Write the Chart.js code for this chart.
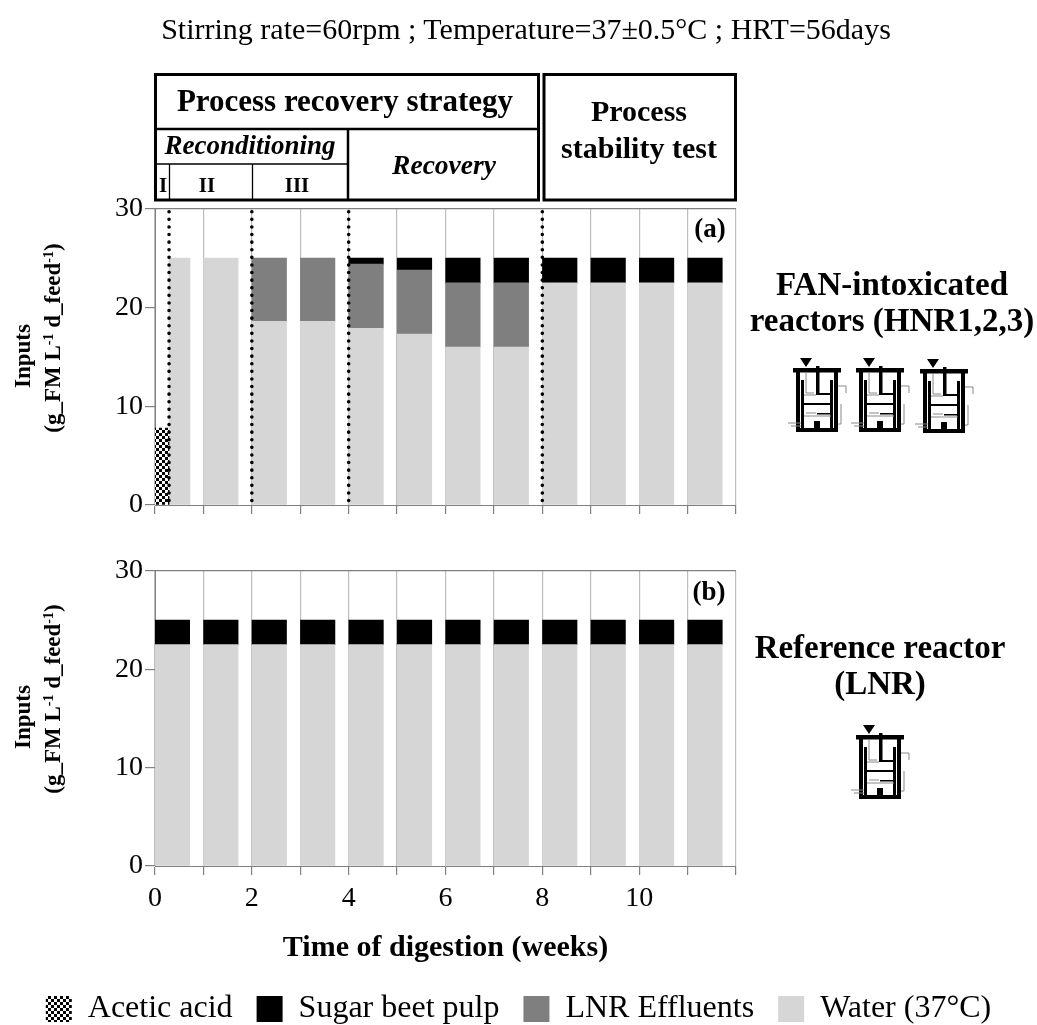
<!DOCTYPE html>
<html>
<head>
<meta charset="utf-8">
<script src="https://cdn.jsdelivr.net/npm/chart.js@4"></script>
<style>
html, body { margin: 0; padding: 0; background: #fff; }
#page { position: relative; width: 1037px; height: 1025px; overflow: hidden; font-family: "Liberation Serif", serif; }
canvas { position: absolute; left: 0; }
#graphA { top: 190px; }
#graphB { top: 552px; }
#notes { position: absolute; left: 0; top: 0; }
#notes text { fill: #000; text-anchor: middle; }
.b { font-weight: bold; }
.bi { font-weight: bold; font-style: italic; }
</style>
</head>
<body>
<div id="page">
<canvas id="graphA" width="1037" height="340"></canvas>
<canvas id="graphB" width="1037" height="483"></canvas>
<svg id="notes" width="1037" height="1025">
  <defs>
    <g id="reactor">
      <path d="M12 0H24L18 9Z" fill="#000"/>
      <rect x="5" y="10" width="48" height="4.5" fill="#000"/>
      <rect x="8" y="14" width="4" height="57" fill="#000"/>
      <rect x="46" y="14" width="4" height="57" fill="#000"/>
      <rect x="13" y="22" width="3" height="49" fill="#000"/>
      <rect x="42" y="22" width="3" height="49" fill="#000"/>
      <rect x="28" y="8" width="3.5" height="28" fill="#000"/>
      <rect x="28" y="35" width="16" height="2" fill="#000"/>
      <rect x="16" y="45" width="27" height="2" fill="#000"/>
      <rect x="29" y="55" width="15" height="1.5" fill="#000"/>
      <rect x="26" y="63" width="6" height="8" fill="#000"/>
      <rect x="8" y="70" width="42" height="4" fill="#000"/>
      <path d="M18 14V35H26M16 37H28M18 55H28M16 58H43M50 28H58V35M50 66H53V46M0 65H13M3 68H13" fill="none" stroke="#888" stroke-width="1"/>
    </g>
  </defs>

  <text x="526" y="39" font-size="30">Stirring rate=60rpm ; Temperature=37±0.5°C ; HRT=56days</text>

  <g fill="none" stroke="#000">
    <rect x="155.5" y="74.5" width="383" height="125.5" stroke-width="3"/>
    <rect x="544" y="74.5" width="191.5" height="125.5" stroke-width="3"/>
    <path d="M155 129H538M348 129V200" stroke-width="2.5"/>
    <path d="M155 164H348M169.5 164V200M252.5 164V200" stroke-width="1.3"/>
  </g>

  <text class="b" x="345" y="111" font-size="31">Process recovery strategy</text>
  <text class="bi" x="250" y="154" font-size="27">Reconditioning</text>
  <text class="bi" x="444" y="174" font-size="27.5">Recovery</text>
  <text class="b" x="163" y="192" font-size="21">I</text>
  <text class="b" x="207" y="192" font-size="21">II</text>
  <text class="b" x="297" y="192" font-size="21">III</text>
  <text class="b" x="639" y="121" font-size="30">Process</text>
  <text class="b" x="639" y="158" font-size="30">stability test</text>

  <text class="b" x="710" y="237" font-size="27">(a)</text>
  <text class="b" x="709" y="600" font-size="27">(b)</text>

  <g class="b" font-size="23">
    <text transform="translate(30,356) rotate(-90)">Inputs</text>
    <text transform="translate(60,338) rotate(-90)">(g_FM L<tspan font-size="14" dy="-7">-1</tspan><tspan dy="7"> d_feed</tspan><tspan font-size="14" dy="-7">-1</tspan><tspan dy="7">)</tspan></text>
    <text transform="translate(30,717) rotate(-90)">Inputs</text>
    <text transform="translate(60,699) rotate(-90)">(g_FM L<tspan font-size="14" dy="-7">-1</tspan><tspan dy="7"> d_feed</tspan><tspan font-size="14" dy="-7">-1</tspan><tspan dy="7">)</tspan></text>
  </g>

  <text class="b" x="892" y="295" font-size="33">FAN-intoxicated</text>
  <text class="b" x="892" y="331" font-size="33">reactors (HNR1,2,3)</text>
  <text class="b" x="880" y="658" font-size="33">Reference reactor</text>
  <text class="b" x="880" y="694" font-size="33">(LNR)</text>

  <use href="#reactor" x="788" y="358"/>
  <use href="#reactor" x="851" y="358"/>
  <use href="#reactor" x="915" y="359"/>
  <use href="#reactor" x="851" y="725"/>
</svg>
</div>

<script>
// semaines
const weeks = [0, 1, 2, 3, 4, 5, 6, 7, 8, 9, 10, 11];
const weekLabels = ['0', '', '2', '', '4', '', '6', '', '8', '', '10', '', ''];
const phaseLimits = [0.29, 2, 4, 8];

// panel (a) HNR
const aceticA = [7.8];
const waterFirstA = [25];
const waterA = [null, 25, 18.6, 18.6, 17.9, 17.3, 16, 16, 22.5, 22.5, 22.5, 22.5];
const effluentA = [null, null, 6.4, 6.4, 6.5, 6.5, 6.5, 6.5, null, null, null, null];
const sugarA = [null, null, null, null, 0.6, 1.2, 2.5, 2.5, 2.5, 2.5, 2.5, 2.5];

// panel (b) LNR
const waterB = [22.5, 22.5, 22.5, 22.5, 22.5, 22.5, 22.5, 22.5, 22.5, 22.5, 22.5, 22.5];
const sugarB = [2.5, 2.5, 2.5, 2.5, 2.5, 2.5, 2.5, 2.5, 2.5, 2.5, 2.5, 2.5];

const legendOrder = ['Acetic acid', 'Sugar beet pulp', 'LNR Effluents', 'Water (37°C)'];

const colWater = '#d6d6d6';
const colEffluent = '#7f7f7f';
const colSugar = '#000000';
const colAxis = '#808080';
const colGrid = '#bdbdbd';
const fontName = '"Liberation Serif", serif';

Chart.defaults.font.family = fontName;
Chart.defaults.color = '#000';
Chart.defaults.animation = false;

function checker() {
    var c = document.createElement('canvas');
    c.width = 6;
    c.height = 6;
    var g = c.getContext('2d');
    g.fillStyle = '#fff';
    g.fillRect(0, 0, 6, 6);
    g.fillStyle = '#000';
    g.fillRect(0, 0, 3, 3);
    g.fillRect(3, 3, 3, 3);
    return g.createPattern(c, 'repeat');
}

// les barres commencent au debut de la semaine, pas au centre
function points(values, shift) {
    return values.map((v, i) => ({ x: weeks[i] + shift, y: v }));
}

function bar(label, data, color, width) {
    return { label: label, data: data, backgroundColor: color, barThickness: width, stack: 'inputs', borderWidth: 0 };
}

const dottedLines = {
    id: 'dottedLines',
    afterDatasetsDraw(chart, args, opts) {
        if (!opts.at) return;
        var ctx = chart.ctx;
        ctx.save();
        ctx.strokeStyle = '#000';
        ctx.lineWidth = 3.6;
        ctx.lineCap = 'round';
        ctx.setLineDash([0, 7.6]);
        opts.at.forEach(function (v) {
            var px = chart.scales.x.getPixelForValue(v);
            ctx.beginPath();
            ctx.moveTo(px, chart.scales.y.getPixelForValue(29.7));
            ctx.lineTo(px, chart.scales.y.getPixelForValue(0));
            ctx.stroke();
        });
        ctx.restore();
    }
};

function scales(xHeight, bottomAxis) {
    return {
        x: {
            type: 'linear', min: 0, max: 12, offset: false,
            afterFit: s => { s.height = xHeight; },
            border: { color: colAxis },
            grid: { offset: false, color: colGrid, tickColor: colAxis, tickLength: 9, lineWidth: 1.2 },
            ticks: {
                stepSize: 1, autoSkip: false, maxRotation: 0, padding: 7,
                font: { size: 28 },
                callback: (v) => bottomAxis ? weekLabels[v] : ''
            },
            title: {
                display: bottomAxis, text: 'Time of digestion (weeks)',
                font: { size: 30, weight: 'bold' }, padding: { top: 6, bottom: 3 }
            }
        },
        y: {
            stacked: true, min: 0, max: 30,
            afterFit: s => { s.width = 155; },
            border: { color: colAxis },
            grid: {
                color: c => c.tick && c.tick.value === 30 ? colAxis : 'transparent',
                tickColor: colAxis, tickLength: 10, lineWidth: 1.2
            },
            ticks: { stepSize: 10, padding: 2, font: { size: 28 } }
        },
        // marge droite pour les textes, la legende garde toute la largeur
        side: {
            position: 'right',
            afterFit: s => { s.width = 301; },
            border: { display: false },
            grid: { display: false },
            ticks: { display: false }
        }
    };
}

function createGraph(id, datasets, xHeight, bottomAxis, legend, limits) {
    return new Chart(document.getElementById(id), {
        type: 'bar',
        data: { datasets: datasets },
        plugins: [dottedLines],
        options: {
            responsive: false,
            maintainAspectRatio: false,
            layout: { padding: { top: 14, right: 0, left: 0, bottom: 0 } },
            scales: scales(xHeight, bottomAxis),
            plugins: {
                legend: legend,
                tooltip: { enabled: false },
                dottedLines: { at: limits }
            }
        }
    });
}

const acetic = checker();

createGraph('graphA', [
    bar('Acetic acid', points(aceticA, 0.145), acetic, 14),
    bar('Water (37°C)', points(waterFirstA, 0.506), colWater, 21),
    bar('Water (37°C)', points(waterA, 0.36), colWater, 34.5),
    bar('LNR Effluents', points(effluentA, 0.36), colEffluent, 34.5),
    bar('Sugar beet pulp', points(sugarA, 0.36), colSugar, 34.5)
], 25, false, { display: false }, phaseLimits);

createGraph('graphB', [
    bar('Acetic acid', [], acetic, 14),
    bar('Water (37°C)', points(waterB, 0.36), colWater, 34.5),
    bar('LNR Effluents', [], colEffluent, 34.5),
    bar('Sugar beet pulp', points(sugarB, 0.36), colSugar, 34.5)
], 103, true, {
    display: true,
    position: 'bottom',
    onClick: null,
    labels: {
        boxWidth: 26, boxHeight: 26, padding: 24,
        font: { size: 32 },
        sort: (a, b) => legendOrder.indexOf(a.text) - legendOrder.indexOf(b.text)
    }
}, []);
</script>
</body>
</html>
